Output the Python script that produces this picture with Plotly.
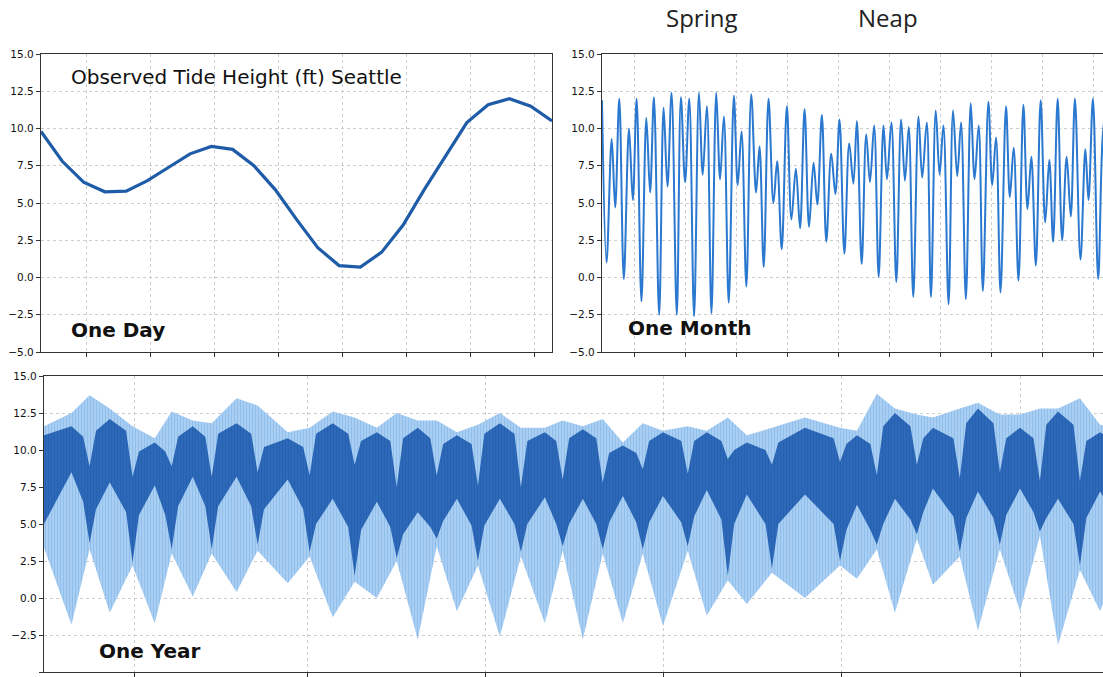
import plotly.graph_objects as go

# ---------------- data ----------------
# One day: hourly observed heights (ft)
day_hours = list(range(25))
day_height = [9.8, 7.8, 6.4, 5.75, 5.8, 6.5, 7.4, 8.3, 8.8, 8.6, 7.5, 5.9, 3.9,
              2.0, 0.8, 0.7, 1.7, 3.5, 5.9, 8.2, 10.4, 11.6, 12.0, 11.5, 10.5]

# One month: times (hours from start) and heights of successive high/low waters
month_hours = [0, 6.4, 13.7, 18.6, 24.4, 30.8, 38.1, 43.5, 48.9, 55.7, 62.6, 67.9,
               73.3, 80.7, 87.0, 92.4, 98.2, 105.6, 111.4, 117.3, 123.2, 130.0,
               136.9, 142.2, 148.1, 154.5, 161.3, 166.7, 172.1, 178.9, 186.2, 191.6,
               197.0, 203.8, 210.7, 217.5, 222.4, 228.3, 235.1, 242.0, 247.3, 253.7,
               261.0, 267.4, 273.7, 279.6, 286.0, 292.3, 298.7, 304.0, 310.4, 316.7,
               323.6, 329.5, 335.3, 342.2, 349.0, 354.9, 359.8, 366.6, 373.0, 378.3,
               384.2, 390.6, 397.4, 402.3, 408.6, 415.5, 422.3, 427.7, 433.1, 439.4,
               446.8, 452.1, 458.5, 464.4, 471.2, 476.6, 482.0, 489.3, 495.6, 501.5,
               506.9, 513.7, 520.6, 526.0, 531.8, 537.7, 545.5, 550.9, 556.3, 562.6,
               570.4, 575.8, 581.2, 588.0, 594.9, 600.7, 606.1, 612.5, 619.3, 625.7,
               631.5, 636.9, 643.3, 649.6, 656.0, 661.8, 667.7, 675.5, 682.4, 686.8,
               693.1, 700.5, 706.8, 712.5]
month_height = [11.9, 1.0, 9.3, 4.7, 12.0, -0.1, 10.0, 5.2, 12.0, -1.6, 10.7, 5.7,
                12.1, -2.5, 11.4, 6.1, 12.4, -2.5, 12.1, 6.4, 12.0, -2.6, 12.4, 6.9,
                11.5, -2.4, 12.4, 6.6, 10.8, -1.7, 12.2, 6.2, 9.8, -0.6, 12.3, 5.7,
                8.8, 0.7, 12.0, 5.0, 7.8, 1.9, 11.5, 3.9, 7.3, 3.3, 11.3, 3.4,
                7.7, 4.9, 10.9, 2.4, 8.3, 5.6, 10.6, 1.6, 9.0, 6.3, 10.5, 0.9,
                9.6, 6.4, 10.2, 0.05, 10.2, 6.6, 10.4, -0.3, 10.6, 6.5, 10.1, -1.3,
                10.8, 6.7, 10.4, -1.3, 11.2, 6.9, 10.2, -1.8, 11.2, 6.8, 10.4, -1.45,
                11.7, 6.6, 10.2, -0.9, 11.8, 6.2, 9.4, -1.0, 11.5, 5.4, 8.7, -0.2,
                11.6, 4.6, 8.1, 0.8, 11.9, 3.7, 7.9, 2.4, 12.0, 2.5, 8.1, 4.1,
                12.0, 1.2, 8.6, 5.2, 12.0, -0.1, 9.4, 11.8]

# One year: outer envelope (highest highs / lowest lows)
year_day = [0.0, 9.4, 15.6, 22.5, 30.3, 37.9, 43.7, 50.9, 57.4, 65.9, 73.1, 83.4,
            90.9, 98.8, 106.3, 113.9, 120.7, 127.9, 134.4, 141.3, 148.5, 156.0,
            163.2, 171.4, 177.5, 184.4, 191.2, 198.1, 204.9, 211.8, 220.3, 226.8,
            234.0, 240.5, 249.1, 260.4, 272.4, 278.2, 285.0, 291.2, 298.7, 304.2,
            313.4, 319.6, 327.1, 334.0, 340.8, 347.0, 354.5, 361.4, 365.0]
year_high = [11.6, 12.5, 13.7, 12.8, 11.6, 10.8, 12.6, 12.0, 11.8, 13.5, 13.0, 11.2,
             11.5, 12.6, 12.2, 11.5, 12.5, 12.0, 12.0, 11.2, 11.7, 12.5, 11.5, 11.5,
             12.0, 11.6, 12.1, 10.5, 11.8, 11.3, 11.6, 11.3, 12.2, 11.0, 11.5, 12.2,
             11.5, 11.3, 13.8, 12.8, 12.4, 12.2, 12.8, 13.2, 12.4, 12.4, 12.8, 12.8,
             13.5, 11.7, 11.6]
year_low = [3.4, -1.8, 3.3, -1.0, 2.2, -1.7, 3.0, 0.1, 3.0, 0.4, 3.2, 1.0,
            2.8, -1.3, 1.1, 0.0, 2.5, -2.8, 3.5, -0.9, 2.2, -2.6, 2.8, -1.7,
            3.2, -2.8, 3.0, -1.7, 3.0, -1.9, 3.2, -1.2, 1.2, -0.4, 1.7, 0.0,
            2.2, 1.3, 3.3, -1.0, 4.0, 0.9, 2.8, -2.2, 3.3, -0.9, 4.2, -3.2,
            1.9, -0.9, 1.0]

# One year: the dark, densely crossed band (top and bottom edges)
dense_day = [0.0, 9.4, 13.4, 15.6, 17.8, 22.5, 28.1, 30.3, 32.5, 37.9, 41.5, 43.7, 45.9,
             50.9, 55.2, 57.4, 59.6, 65.9, 70.9, 73.1, 75.3, 83.4, 88.7, 90.9, 93.1,
             98.8, 104.1, 106.3, 108.5, 113.9, 118.5, 120.7, 122.9, 127.9, 132.2, 134.4,
             136.6, 141.3, 146.3, 148.5, 150.7, 156.0, 161.0, 163.2, 165.4, 171.4, 175.3,
             177.5, 179.7, 184.4, 189.0, 191.2, 193.4, 198.1, 202.7, 204.9, 207.1, 211.8,
             218.1, 220.3, 222.5, 226.8, 231.8, 234.0, 236.2, 240.5, 246.9, 249.1, 251.3,
             260.4, 270.2, 272.4, 274.6, 278.2, 282.8, 285.0, 287.2, 291.2, 296.5, 298.7,
             300.9, 304.2, 311.2, 313.4, 315.6, 319.6, 324.9, 327.1, 329.3, 334.0, 338.6,
             340.8, 343.0, 347.0, 352.3, 354.5, 356.7, 361.4, 365.0]
dense_top = [11.0, 11.6, 10.9, 8.9, 11.3, 12.1, 11.3, 8.2, 9.9, 10.5, 9.9, 8.9, 10.9,
             11.6, 10.9, 8.2, 11.1, 11.8, 11.1, 8.5, 10.2, 10.8, 10.2, 8.3, 11.1,
             11.8, 11.1, 9.0, 10.6, 11.2, 10.6, 7.5, 10.8, 11.5, 10.8, 8.3,
             10.4, 11.0, 10.4, 7.6, 11.1, 11.8, 11.1, 7.5, 10.6, 11.2, 10.6,
             8.0, 10.8, 11.4, 10.8, 7.8, 9.8, 10.3, 9.8, 8.7, 10.6, 11.2,
             10.6, 8.4, 10.6, 11.2, 10.6, 9.4, 10.0, 10.5, 10.0, 9.0, 10.5,
             11.5, 10.8, 9.2, 10.4, 11.0, 10.4, 8.3, 11.6, 12.5, 11.6, 9.0,
             10.8, 11.5, 10.8, 8.1, 11.8, 12.8, 11.8, 8.5, 10.8, 11.5, 10.8,
             7.9, 11.7, 12.6, 11.7, 7.9, 10.6, 11.2, 10.8]
dense_bottom = [5.0, 8.5, 6.5, 3.7, 6.0, 7.8, 5.8, 2.4, 5.6, 7.6, 5.6, 3.3, 6.2,
                8.2, 6.2, 3.3, 6.2, 8.2, 6.2, 3.6, 6.0, 8.0, 6.0, 3.1, 5.0,
                6.7, 4.8, 1.5, 4.6, 6.5, 4.8, 2.7, 4.3, 5.8, 4.8, 4.0,
                5.2, 6.7, 4.9, 2.5, 4.9, 6.7, 5.0, 3.1, 5.0, 6.8, 5.0,
                3.5, 5.0, 6.7, 5.0, 3.3, 5.1, 6.9, 5.1, 3.3, 5.1, 6.9,
                5.1, 3.5, 5.5, 7.3, 5.3, 1.5, 5.0, 7.0, 5.0, 2.0, 5.0,
                7.0, 5.0, 2.5, 4.6, 6.3, 4.6, 3.6, 5.0, 6.7, 5.3, 4.3,
                5.8, 7.4, 5.5, 3.1, 5.4, 7.2, 5.4, 3.6, 5.6, 7.4, 5.8,
                4.5, 5.4, 6.7, 5.0, 2.2, 5.4, 7.2, 6.0]

y_ticks = [-5.0, -2.5, 0.0, 2.5, 5.0, 7.5, 10.0, 12.5, 15.0]
year_tick_days = [31, 90, 151, 212, 273, 334]

# ---------------- figure ----------------
W, H = 1103, 677
fig = go.Figure()

fig.add_trace(go.Scatter(x=day_hours, y=day_height, mode="lines",
                         line=dict(color="#1f5ca8", width=3.2),
                         xaxis="x", yaxis="y", showlegend=False, hoverinfo="skip"))

fig.add_trace(go.Scatter(x=month_hours, y=month_height, mode="lines",
                         line=dict(color="#2a78cf", width=2, shape="spline", smoothing=1.0),
                         xaxis="x2", yaxis="y2", showlegend=False, hoverinfo="skip"))

fig.add_trace(go.Scatter(x=year_day + year_day[::-1], y=year_high + year_low[::-1],
                         mode="lines", fill="toself", line=dict(width=0, color="#5aa2e6"),
                         fillcolor="#8fc0ee",
                         fillpattern=dict(shape="|", size=3, solidity=0.72,
                                          fgcolor="#4e99e1", bgcolor="#cfe4f8"),
                         xaxis="x3", yaxis="y3", showlegend=False, hoverinfo="skip"))

fig.add_trace(go.Scatter(x=dense_day + dense_day[::-1], y=dense_top + dense_bottom[::-1],
                         mode="lines", fill="toself", line=dict(width=0, color="#2360ad"),
                         fillcolor="#2360ad",
                         fillpattern=dict(shape="|", size=3, solidity=0.5,
                                          fgcolor="#1c55a2", bgcolor="#2f6cbc"),
                         xaxis="x3", yaxis="y3", showlegend=False, hoverinfo="skip"))

def px_x(p):
    return p / W

def px_y(p):
    return 1 - p / H

grid = dict(showgrid=True, gridcolor="#cdcdcd", gridwidth=1, griddash="dot")
axis_common = dict(showline=True, linecolor="#333333", linewidth=1.4, zeroline=False,
                   ticks="outside", ticklen=4, tickcolor="#333333", automargin=False,
                   tickfont=dict(family="DejaVu Sans", size=10.5, color="#111111"), **grid)

yax = dict(range=[-5, 15], tickvals=y_ticks, tickformat=".1f", **axis_common)
xax = dict(showticklabels=False, **axis_common)

top_dom = [px_y(352), px_y(54)]
bot_dom = [px_y(672), px_y(376)]

fig.update_layout(
    width=W, height=H, margin=dict(l=0, r=0, t=0, b=0),
    paper_bgcolor="white", plot_bgcolor="white",
    xaxis=dict(domain=[px_x(41), px_x(552)], range=[0, 24], tickmode="linear",
               tick0=2.16, dtick=3, mirror=True, anchor="y", **xax),
    yaxis=dict(domain=top_dom, anchor="x", mirror=True, **yax),
    xaxis2=dict(domain=[px_x(602), 1.0], range=[0, 707.3], tickmode="linear",
                tick0=46.4, dtick=71.9, mirror=True, anchor="y2", **xax),
    yaxis2=dict(domain=top_dom, anchor="x2", mirror=False, **yax),
    xaxis3=dict(domain=[px_x(44), 1.0], range=[0, 362.4], tickmode="array",
                tickvals=year_tick_days, mirror=True, anchor="y3", **xax),
    yaxis3=dict(domain=bot_dom, anchor="x3", mirror=False, **yax),
)

def note(text, x, y, size, bold=False, family="DejaVu Sans", color="#111111"):
    fig.add_annotation(text=f"<b>{text}</b>" if bold else text,
                       x=px_x(x), y=px_y(y), xref="paper", yref="paper",
                       xanchor="left", yanchor="middle", showarrow=False,
                       font=dict(family=family, size=size, color=color))

note("Observed Tide Height (ft) Seattle", 69, 77, 20)
note("One Day", 69, 330, 20, bold=True)
note("One Month", 626, 328, 20, bold=True)
note("One Year", 97, 651, 20, bold=True)
note("Spring", 664, 18, 24, family="Open Sans", color="#222222")
note("Neap", 856, 18, 24, family="Open Sans", color="#222222")

fig.write_html("out.html", config={"displayModeBar": False},
               post_script="document.body.style.margin='0px';")
